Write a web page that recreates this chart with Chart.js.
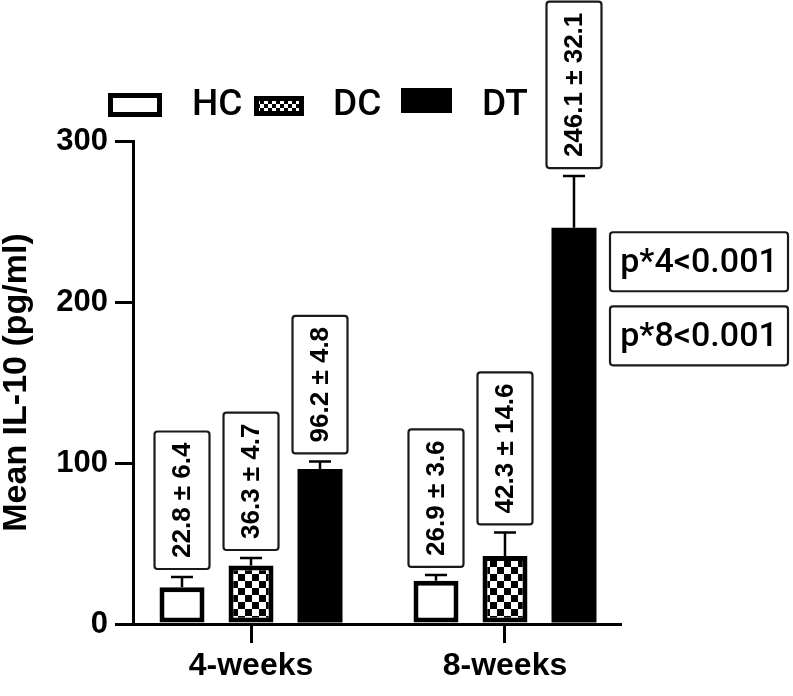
<!DOCTYPE html>
<html><head><meta charset="utf-8">
<script src="https://cdn.jsdelivr.net/npm/chart.js@4/dist/chart.umd.min.js"></script>
<style>html,body{margin:0;padding:0;background:#fff;}#wrap{width:793px;height:696px;}</style>
</head><body><div id="wrap"><canvas id="c" width="793" height="696"></canvas></div>
<script>
const categories = ['4-weeks', '8-weeks'];
const groups = ['HC', 'DC', 'DT'];
const hcMean = [22.8, 26.9];
const hcSD = [6.4, 3.6];
const dcMean = [36.3, 42.3];
const dcSD = [4.7, 14.6];
const dtMean = [96.2, 246.1];
const dtSD = [4.8, 32.1];
const yTicks = [0, 100, 200, 300];
const pLabels = ['p*4<0.001', 'p*8<0.001'];
const pValuesAt = [225, 179]; // vertical anchor of the p-value boxes in data units

const FONT = '"Liberation Sans", Arial, sans-serif';
const FONT2 = 'Roboto, "Liberation Sans", Arial, sans-serif';
const canvas = document.getElementById('c');
const ctx = canvas.getContext('2d');

function checker(size) {
  const c = document.createElement('canvas');
  c.width = c.height = size * 2;
  const x = c.getContext('2d');
  x.fillStyle = '#fff'; x.fillRect(0, 0, size * 2, size * 2);
  x.fillStyle = '#000'; x.fillRect(0, 0, size, size); x.fillRect(size, size, size, size);
  return ctx.createPattern(c, 'repeat');
}
const checkPattern = checker(7);
const legendPattern = checker(4);

function toPoints(arr) { return arr.map((v, i) => ({ x: i + 1, y: v })); }

function roundRect(c, x, y, w, h, r) {
  c.beginPath();
  c.moveTo(x + r, y);
  c.lineTo(x + w - r, y); c.quadraticCurveTo(x + w, y, x + w, y + r);
  c.lineTo(x + w, y + h - r); c.quadraticCurveTo(x + w, y + h, x + w - r, y + h);
  c.lineTo(x + r, y + h); c.quadraticCurveTo(x, y + h, x, y + h - r);
  c.lineTo(x, y + r); c.quadraticCurveTo(x, y, x + r, y);
  c.closePath();
}

const errorBars = {
  id: 'errorBars',
  afterDatasetsDraw(chart) {
    const c = chart.ctx, ys = chart.scales.y;
    chart.data.datasets.forEach((ds, di) => {
      chart.getDatasetMeta(di).data.forEach((bar, i) => {
        const top = ys.getPixelForValue(ds.data[i].y + ds.sd[i]);
        c.save();
        c.strokeStyle = '#000'; c.lineWidth = 2.5;
        c.beginPath();
        c.moveTo(bar.x, bar.y); c.lineTo(bar.x, top);
        c.moveTo(bar.x - 11, top); c.lineTo(bar.x + 11, top);
        c.stroke();
        // value label box
        const txt = ds.data[i].y.toFixed(1) + ' \u00b1 ' + ds.sd[i].toFixed(1);
        c.font = 'bold 26px ' + FONT;
        const tw = c.measureText(txt).width;
        const boxH = tw + 22, boxW = 55;
        const bottom = top - 8;
        roundRect(c, bar.x - boxW / 2, bottom - boxH, boxW, boxH, 3);
        c.fillStyle = '#fff'; c.fill();
        c.lineWidth = 2.2; c.strokeStyle = '#1a1a1a'; c.stroke();
        c.translate(bar.x, bottom - boxH / 2);
        c.rotate(-Math.PI / 2);
        c.fillStyle = '#000'; c.textAlign = 'center'; c.textBaseline = 'middle';
        c.fillText(txt, 0, 1);
        c.restore();
      });
    });
  }
};

const customLegend = {
  id: 'customLegend',
  afterDraw(chart) {
    const c = chart.ctx;
    const boxes = [[108, 93, 54, 24], [254, 96, 50, 20], [401, 88, 51, 25]];
    const textX = [192, 333, 482];
    chart.data.datasets.forEach((ds, i) => {
      const [x, y, w, h] = boxes[i];
      c.save();
      c.fillStyle = '#000';
      c.fillRect(x, y, w, h);
      const b = 5;
      if (i === 0) { c.fillStyle = '#fff'; c.fillRect(x + b, y + b, w - 2 * b, h - 2 * b); }
      if (i === 1) { c.fillStyle = legendPattern; c.fillRect(x + b, y + b, w - 2 * b, h - 2 * b); }
      c.fillStyle = '#000';
      c.font = '500 37px ' + FONT2;
      c.textBaseline = 'alphabetic'; c.textAlign = 'left';
      c.fillText(ds.label, textX[i], 115);
      c.restore();
    });
  }
};

const pBoxes = {
  id: 'pBoxes',
  afterDraw(chart) {
    const c = chart.ctx, ys = chart.scales.y;
    const x0 = chart.chartArea.right - 10, w = 178, h = 59;
    pLabels.forEach((t, i) => {
      const cy = ys.getPixelForValue(pValuesAt[i]);
      c.save();
      roundRect(c, x0, cy - h / 2, w, h, 3);
      c.fillStyle = '#fff'; c.fill();
      c.lineWidth = 2.2; c.strokeStyle = '#1a1a1a'; c.stroke();
      c.fillStyle = '#000'; c.font = '500 34px ' + FONT2;
      c.textAlign = 'center'; c.textBaseline = 'middle';
      c.fillText(t, x0 + w / 2, cy + 2);
      c.restore();
    });
  }
};

new Chart(ctx, {
  type: 'bar',
  data: {
    datasets: [
      { label: groups[0], data: toPoints(hcMean), sd: hcSD, backgroundColor: '#fff', borderColor: '#000', borderWidth: 5, borderSkipped: false },
      { label: groups[1], data: toPoints(dcMean), sd: dcSD, backgroundColor: checkPattern, borderColor: '#000', borderWidth: 5, borderSkipped: false },
      { label: groups[2], data: toPoints(dtMean), sd: dtSD, backgroundColor: '#000', borderColor: '#000', borderWidth: 0 }
    ]
  },
  options: {
    responsive: false,
    animation: false,
    devicePixelRatio: 1,
    categoryPercentage: 0.815,
    barPercentage: 0.652,
    layout: { padding: { top: 141, right: 173, left: 0, bottom: 0 } },
    plugins: { legend: { display: false }, tooltip: { enabled: false } },
    scales: {
      x: {
        type: 'linear', min: 0.5354, max: 2.4528, offset: false,
        afterBuildTicks: s => { s.ticks = categories.map((c, i) => ({ value: i + 1 })); },
        ticks: { callback: v => categories[v - 1], font: { family: FONT, size: 32, weight: 'bold' }, color: '#000', padding: 4, autoSkip: false, maxRotation: 0 },
        grid: { offset: false, drawOnChartArea: false, drawTicks: true, tickLength: 19, color: '#000', lineWidth: 3 },
        border: { color: '#000', width: 3 },
        afterFit: s => { s.height = 72; }
      },
      y: {
        min: 0, max: 300,
        afterBuildTicks: s => { s.ticks = yTicks.map(v => ({ value: v })); },
        ticks: { font: { family: FONT, size: 31, weight: 'bold' }, color: '#000', padding: 7 },
        grid: { drawOnChartArea: false, drawTicks: true, tickLength: 18, color: '#000', lineWidth: 3 },
        border: { color: '#000', width: 3 },
        title: { display: true, text: 'Mean IL-10 (pg/ml)', font: { family: FONT, size: 34, weight: 'bold', lineHeight: 1.0 }, color: '#000', padding: 0 },
        afterFit: s => { s.width = 133; }
      }
    }
  },
  plugins: [errorBars, customLegend, pBoxes]
});
</script></body></html>
